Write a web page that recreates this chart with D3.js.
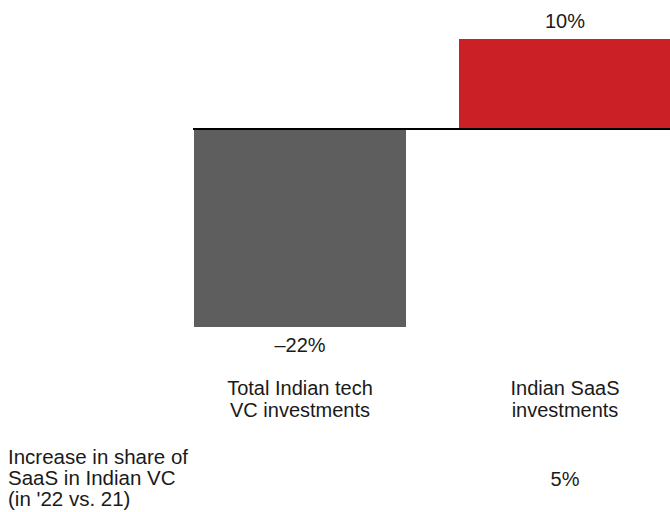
<!DOCTYPE html>
<html>
<head>
<meta charset="utf-8">
<script src="https://cdn.jsdelivr.net/npm/d3@7"></script>
<style>
  html, body { margin: 0; padding: 0; background: #fff; }
  svg { display: block; }
  text { font-family: "Liberation Sans", Arial, sans-serif; fill: #1a1a1a; }
</style>
</head>
<body>
<svg id="chart" width="670" height="512"></svg>
<script>
// Change in investment, 2022 vs 2021
const categories = [["Total Indian tech", "VC investments"], ["Indian SaaS", "investments"]];
const values = [-22, 10];
const valueLabels = ["\u201322%", "10%"];
const barColors = ["#5e5e5e", "#cc2027"];

// Extra row beneath the bars
const rowLabel = ["Increase in share of", "SaaS in Indian VC", "(in '22 vs. 21)"];
const rowValues = ["", "5%"];

const svg = d3.select("#chart");
const W = 670, H = 512;

const keys = categories.map(c => c.join(" "));
const x = d3.scaleBand().domain(keys).range([194, 671]).paddingInner(0.2).paddingOuter(0);
const y = d3.scaleLinear().domain([-22, 10]).range([327, 39]);

// bars
svg.append("g").selectAll("rect")
  .data(values)
  .join("rect")
  .attr("x", (d, i) => x(keys[i]))
  .attr("width", x.bandwidth())
  .attr("y", d => y(Math.max(0, d)))
  .attr("height", d => Math.abs(y(d) - y(0)))
  .attr("fill", (d, i) => barColors[i]);

// zero line
svg.append("line")
  .attr("x1", 193).attr("x2", W)
  .attr("y1", y(0)).attr("y2", y(0))
  .attr("stroke", "#000").attr("stroke-width", 2);

// value labels
svg.append("g").selectAll("text")
  .data(values)
  .join("text")
  .attr("x", (d, i) => x(keys[i]) + x.bandwidth() / 2)
  .attr("y", d => d >= 0 ? y(d) - 11 : y(d) + 25)
  .attr("text-anchor", "middle")
  .attr("font-size", 20)
  .text((d, i) => valueLabels[i]);

// category labels
const cat = svg.append("g").selectAll("text")
  .data(categories)
  .join("text")
  .attr("text-anchor", "middle")
  .attr("font-size", 20)
  .attr("x", (d, i) => x(keys[i]) + x.bandwidth() / 2)
  .attr("y", 395);
cat.selectAll("tspan")
  .data(d => d)
  .join("tspan")
  .attr("x", function () { return d3.select(this.parentNode).attr("x"); })
  .attr("dy", (d, i) => i === 0 ? 0 : 21.5)
  .text(d => d);

// row label
svg.append("text")
  .attr("x", 8).attr("y", 464)
  .attr("font-size", 20.5)
  .selectAll("tspan")
  .data(rowLabel)
  .join("tspan")
  .attr("x", 8)
  .attr("dy", (d, i) => i === 0 ? 0 : 21)
  .text(d => d);

// row values
svg.append("g").selectAll("text")
  .data(rowValues)
  .join("text")
  .attr("x", (d, i) => x(keys[i]) + x.bandwidth() / 2)
  .attr("y", 486)
  .attr("text-anchor", "middle")
  .attr("font-size", 20)
  .text(d => d);
</script>
</body>
</html>
